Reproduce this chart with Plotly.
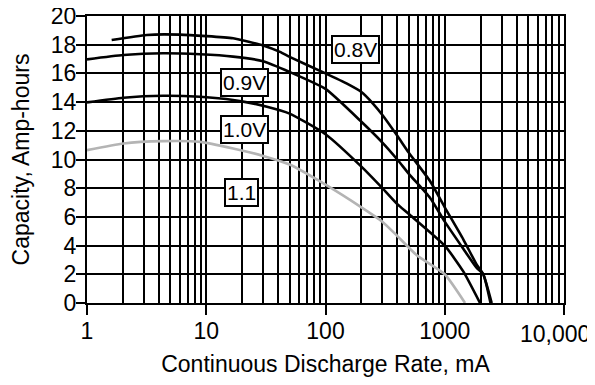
import math
import plotly.graph_objects as go

# Discharge rate (mA) and capacity (Amp-hours) per cutoff voltage
x_08 = [1.61, 3.17, 6.0, 16.8, 30, 41.5, 50, 100, 150, 200, 250, 300, 400, 500, 752, 1000, 1430, 1854, 2105, 2476]
y_08 = [18.33, 18.68, 18.7, 18.45, 17.95, 17.5, 17.15, 16.0, 15.3, 14.7, 13.9, 13.1, 11.65, 10.47, 8.5, 6.67, 4.44, 2.67, 2.0, 0]

x_09 = [1, 2.02, 4.34, 8.87, 16.8, 30, 50, 100, 200, 300, 400, 500, 752, 1000, 1430, 1854, 2105, 2420]
y_09 = [16.98, 17.28, 17.4, 17.33, 17.17, 16.85, 16.1, 14.92, 12.63, 11.18, 10.0, 9.0, 7.33, 5.67, 3.78, 2.44, 2.0, 0]

x_10 = [1, 2.02, 4.34, 8.87, 16.8, 32.3, 50, 100, 200, 300, 400, 500, 1000, 1430, 1976]
y_10 = [13.98, 14.3, 14.44, 14.37, 14.15, 13.68, 13.2, 11.76, 9.5, 8.0, 6.89, 6.2, 4.0, 2.2, 0]

x_11 = [1, 2.02, 4.34, 8.87, 16.8, 30, 50, 100, 200, 300, 400, 582, 1000, 1479]
y_11 = [10.65, 11.12, 11.28, 11.23, 10.77, 10.25, 9.65, 8.25, 6.67, 5.67, 4.67, 3.33, 2.0, 0]

labels = ["0.8V", "0.9V", "1.0V", "1.1"]
label_x = [180, 20.9, 21.0, 19.6]
label_y = [17.7, 15.4, 12.1, 7.7]

x_major = [1, 10, 100, 1000, 10000]
x_major_text = ["1", "10", "100", "1000", ""]
last_tick_text = "10,000"
x_minor = [m * d for d in [1, 10, 100, 1000] for m in range(2, 10)]

FONT = "Liberation Sans, Arial, Helvetica, sans-serif"

fig = go.Figure()
series = [(x_08, y_08, "black"), (x_09, y_09, "black"), (x_10, y_10, "black"), (x_11, y_11, "#b4b4b4")]
for xs, ys, c in series:
    fig.add_trace(go.Scatter(x=xs, y=ys, mode="lines",
                             line=dict(color=c, width=2.6, shape="spline", smoothing=0.5),
                             showlegend=False, hoverinfo="skip"))

for t, lx, ly in zip(labels, label_x, label_y):
    fig.add_annotation(x=math.log10(lx), y=ly, xref="x", yref="y", text=t, showarrow=False,
                       font=dict(family=FONT, size=21, color="black"),
                       bgcolor="white", bordercolor="black", borderwidth=2, borderpad=1)

# last x tick label placed so it stays inside the page, as in the reference
fig.add_annotation(x=math.log10(x_major[-1]), y=0, xref="x", yref="paper", text=last_tick_text,
                   showarrow=False, yanchor="middle", xanchor="center", xshift=-9, yshift=-31,
                   font=dict(family=FONT, size=23, color="black"))

# the page body has an 8px default margin, so the figure is sized/margined to compensate
fig.update_layout(
    width=587, height=369,
    margin=dict(l=79, r=31, t=8, b=74),
    paper_bgcolor="white", plot_bgcolor="white",
    font=dict(family=FONT, size=23, color="black"),
    xaxis=dict(
        type="log", range=[0, 4], automargin=False,
        tickvals=x_major, ticktext=x_major_text,
        ticks="outside", ticklen=10, tickwidth=2, tickcolor="black",
        ticklabelstandoff=-4,
        showgrid=True, gridcolor="black", gridwidth=1.6,
        minor=dict(tickvals=x_minor, showgrid=True, gridcolor="black", gridwidth=1.6, ticks=""),
        showline=True, linecolor="black", linewidth=2, mirror=True,
        zeroline=False,
        title=dict(text="Continuous Discharge Rate, mA", font=dict(size=23), standoff=18),
        tickfont=dict(size=23),
    ),
    yaxis=dict(
        range=[0, 20], dtick=2, tick0=0, automargin=False,
        ticks="outside", ticklen=9, tickwidth=2, tickcolor="black",
        ticklabelstandoff=-5, ticklabeloverflow="allow",
        showgrid=True, gridcolor="black", gridwidth=1.6,
        showline=True, linecolor="black", linewidth=2, mirror=True,
        zeroline=False,
        title=dict(text="Capacity, Amp-hours", font=dict(size=23), standoff=17),
        tickfont=dict(size=23),
    ),
)

fig.write_html("out.html")
